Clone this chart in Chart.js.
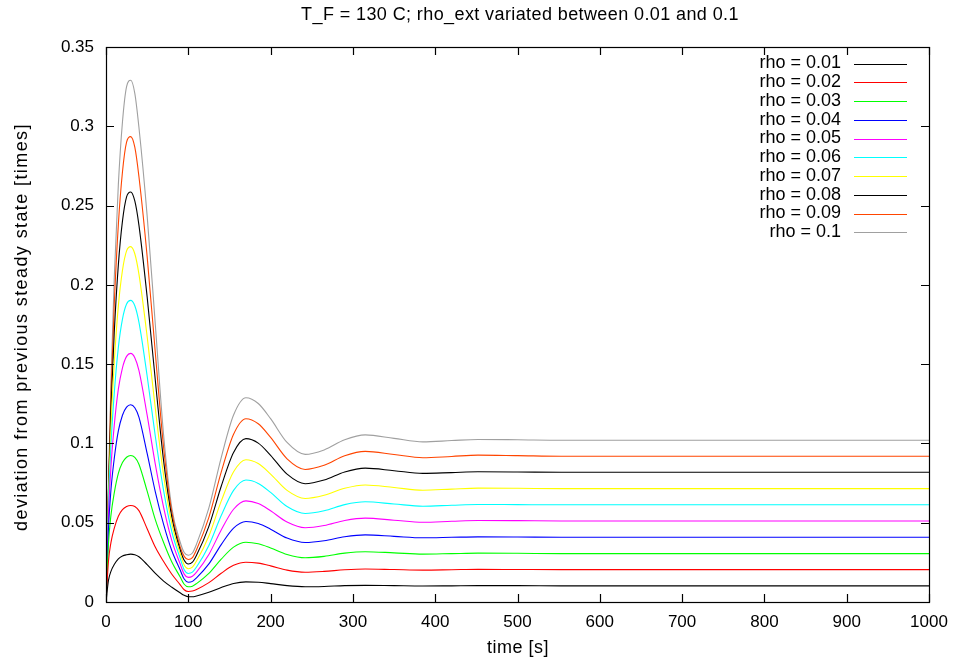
<!DOCTYPE html>
<html>
<head>
<meta charset="utf-8">
<script src="https://cdn.jsdelivr.net/npm/chart.js@4.4.1/dist/chart.umd.min.js"></script>
<style>
  html, body { margin: 0; padding: 0; background: #fff; }
  #wrap { width: 959px; height: 664px; }
</style>
</head>
<body>
<div id="wrap"><canvas id="chart" width="959" height="664"></canvas></div>
<script>
// tiempos (s)
const times = [0, 3, 6, 10, 15, 20, 25, 30, 35, 40, 50, 60, 70, 80, 90, 95, 100, 105, 110, 125, 140, 155, 170, 185, 200, 220, 242, 265, 290, 315, 350, 385, 420, 452, 500, 553, 650, 750, 850, 1000];

// desviación para cada rho
const rho001 = [0, 0.0136, 0.0193, 0.0236, 0.0272, 0.0290, 0.0298, 0.0302, 0.0298, 0.0285, 0.0236, 0.0180, 0.0132, 0.0093, 0.0058, 0.0042, 0.0033, 0.0033, 0.0038, 0.0061, 0.0091, 0.0117, 0.0127, 0.0125, 0.0116, 0.0103, 0.0096, 0.0098, 0.0103, 0.0105, 0.0103, 0.0101, 0.0102, 0.0103, 0.0103, 0.0102, 0.0102, 0.0102, 0.0102, 0.0102];
const rho002 = [0, 0.0258, 0.0375, 0.0464, 0.0541, 0.0582, 0.0602, 0.0609, 0.0602, 0.0576, 0.0462, 0.0345, 0.0255, 0.0175, 0.0110, 0.0077, 0.0066, 0.0069, 0.0079, 0.0122, 0.0181, 0.0231, 0.0251, 0.0245, 0.0228, 0.0201, 0.0188, 0.0193, 0.0203, 0.0208, 0.02045, 0.0201, 0.02035, 0.0206, 0.0205, 0.0204, 0.0204, 0.0204, 0.0204, 0.0204];
const rho003 = [0, 0.0369, 0.0546, 0.0687, 0.0811, 0.0879, 0.0913, 0.0924, 0.0912, 0.0869, 0.0699, 0.0518, 0.0375, 0.0252, 0.0159, 0.0112, 0.0096, 0.0100, 0.0116, 0.0180, 0.0270, 0.0346, 0.0377, 0.0367, 0.0341, 0.0300, 0.0279, 0.0288, 0.0308, 0.0317, 0.0310, 0.0302, 0.0305, 0.0308, 0.0307, 0.0305, 0.0305, 0.0305, 0.0305, 0.0305];
const rho004 = [0, 0.0464, 0.0705, 0.0904, 0.1079, 0.1178, 0.1229, 0.1244, 0.1225, 0.1166, 0.0937, 0.0693, 0.0489, 0.0323, 0.0203, 0.0145, 0.0125, 0.0130, 0.0152, 0.0240, 0.0362, 0.0466, 0.0508, 0.0495, 0.0459, 0.0403, 0.0375, 0.0386, 0.0411, 0.0423, 0.0414, 0.0405, 0.0408, 0.0411, 0.0410, 0.0408, 0.0408, 0.0408, 0.0408, 0.0408];
const rho005 = [0, 0.0546, 0.0850, 0.1112, 0.1342, 0.1477, 0.1549, 0.1568, 0.1541, 0.1461, 0.1178, 0.0866, 0.0597, 0.0387, 0.0241, 0.0176, 0.0155, 0.0162, 0.0189, 0.0300, 0.0454, 0.0585, 0.0638, 0.0621, 0.0575, 0.0504, 0.0468, 0.0482, 0.0514, 0.0529, 0.0516, 0.0503, 0.0509, 0.0514, 0.0513, 0.0511, 0.0511, 0.0511, 0.0511, 0.0511];
const rho006 = [0, 0.0612, 0.0985, 0.1314, 0.1605, 0.1784, 0.1879, 0.1902, 0.1868, 0.1765, 0.1425, 0.1042, 0.0702, 0.0443, 0.0278, 0.0204, 0.0180, 0.0188, 0.0221, 0.0357, 0.0545, 0.0704, 0.0769, 0.0748, 0.0691, 0.0602, 0.0558, 0.0575, 0.0614, 0.0632, 0.0618, 0.0604, 0.0610, 0.0615, 0.0614, 0.0613, 0.0613, 0.0613, 0.0613, 0.0613];
const rho007 = [0, 0.0666, 0.1105, 0.1508, 0.1867, 0.2091, 0.2214, 0.2241, 0.2196, 0.2068, 0.1674, 0.1217, 0.0800, 0.0493, 0.0307, 0.0234, 0.0210, 0.0220, 0.0258, 0.0416, 0.0636, 0.0821, 0.0897, 0.0873, 0.0807, 0.0704, 0.0653, 0.0673, 0.0717, 0.0738, 0.0722, 0.0705, 0.0712, 0.0718, 0.0717, 0.0715, 0.0715, 0.0715, 0.0715, 0.0715];
const rho008 = [0, 0.0701, 0.1213, 0.1696, 0.2126, 0.2402, 0.2555, 0.2586, 0.2529, 0.2377, 0.1924, 0.1394, 0.0890, 0.0535, 0.0331, 0.0263, 0.0240, 0.0251, 0.0295, 0.0477, 0.0730, 0.0943, 0.1030, 0.1002, 0.0925, 0.0806, 0.0746, 0.0769, 0.0820, 0.0844, 0.0828, 0.0811, 0.0816, 0.0821, 0.0820, 0.0818, 0.0818, 0.0818, 0.0818, 0.0818];
const rho009 = [0, 0.0722, 0.1303, 0.1873, 0.2380, 0.2712, 0.2900, 0.2935, 0.2868, 0.2683, 0.2178, 0.1567, 0.0974, 0.0566, 0.0349, 0.0288, 0.0268, 0.0280, 0.0330, 0.0534, 0.0819, 0.1058, 0.1156, 0.1124, 0.1038, 0.0903, 0.0836, 0.0862, 0.0922, 0.0950, 0.0930, 0.0910, 0.0918, 0.0926, 0.0923, 0.0919, 0.0919, 0.0919, 0.0919, 0.0919];
const rho010 = [0, 0.0724, 0.1382, 0.2040, 0.2632, 0.3027, 0.3250, 0.3290, 0.3208, 0.2994, 0.2435, 0.1744, 0.1053, 0.0592, 0.0380, 0.0312, 0.0295, 0.0309, 0.0365, 0.0593, 0.0911, 0.1179, 0.1288, 0.1252, 0.1156, 0.1006, 0.0931, 0.0959, 0.1023, 0.1054, 0.1032, 0.1010, 0.1018, 0.1025, 0.1023, 0.1020, 0.1020, 0.1020, 0.1020, 0.1020];

const seriesLabels = ['rho = 0.01', 'rho = 0.02', 'rho = 0.03', 'rho = 0.04', 'rho = 0.05', 'rho = 0.06', 'rho = 0.07', 'rho = 0.08', 'rho = 0.09', 'rho = 0.1'];
const seriesValues = [rho001, rho002, rho003, rho004, rho005, rho006, rho007, rho008, rho009, rho010];
const colors = ['#000000', '#ff0000', '#00ff00', '#0000ff', '#ff00ff', '#00ffff', '#ffff00', '#000000', '#ff4500', '#a0a0a0'];

const xTickLabels = ['0', '100', '200', '300', '400', '500', '600', '700', '800', '900', '1000'];
const yTickLabels = ['0', '0.05', '0.1', '0.15', '0.2', '0.25', '0.3', '0.35'];

const FONT = "'Liberation Sans', Arial, sans-serif";

// marco, ticks hacia dentro, leyenda y títulos al estilo gnuplot
const gnuplotFrame = {
    id: 'gnuplotFrame',
    afterDraw(chart) {
        const ctx = chart.ctx;
        const a = chart.chartArea;
        const xs = chart.scales.x;
        const ys = chart.scales.y;
        ctx.save();
        ctx.strokeStyle = '#000';
        ctx.lineWidth = 1.2;
        ctx.strokeRect(a.left + 0.5, a.top + 0.5, a.right - a.left, a.bottom - a.top);

        ctx.beginPath();
        xs.ticks.forEach(t => {
            const px = Math.round(xs.getPixelForValue(t.value)) + 0.5;
            ctx.moveTo(px, a.bottom); ctx.lineTo(px, a.bottom - 8);
            ctx.moveTo(px, a.top); ctx.lineTo(px, a.top + 8);
        });
        ys.ticks.forEach(t => {
            const py = Math.round(ys.getPixelForValue(t.value)) + 0.5;
            ctx.moveTo(a.left, py); ctx.lineTo(a.left + 8, py);
            ctx.moveTo(a.right, py); ctx.lineTo(a.right - 8, py);
        });
        ctx.stroke();

        // leyenda
        ctx.font = '18px ' + FONT;
        ctx.fillStyle = '#000';
        ctx.textAlign = 'right';
        ctx.textBaseline = 'middle';
        ctx.lineWidth = 1.2;
        seriesLabels.forEach((lab, i) => {
            const y = 63.5 + i * 18.75;
            ctx.fillText(lab, 841, y);
            ctx.strokeStyle = colors[i];
            ctx.beginPath();
            ctx.moveTo(854, Math.round(y) + 0.5);
            ctx.lineTo(907, Math.round(y) + 0.5);
            ctx.stroke();
        });

        // títulos
        ctx.textAlign = 'center';
        ctx.letterSpacing = '0.4px';
        ctx.fillText('T_F = 130 C; rho_ext variated between 0.01 and 0.1', 520, 15);
        ctx.letterSpacing = '0.5px';
        ctx.fillText('time [s]', 518, 648);
        ctx.letterSpacing = '1.4px';
        ctx.translate(22, 327);
        ctx.rotate(-Math.PI / 2);
        ctx.fillText('deviation from previous steady state [times]', 0, 0);
        ctx.restore();
    }
};

new Chart(document.getElementById('chart'), {
    type: 'line',
    data: {
        datasets: seriesValues.map((vals, i) => ({
            label: seriesLabels[i],
            data: vals.map((v, j) => ({ x: times[j], y: v })),
            borderColor: colors[i],
            borderWidth: 1.1,
            pointRadius: 0,
            fill: false,
            cubicInterpolationMode: 'monotone'
        }))
    },
    options: {
        responsive: false,
        animation: false,
        layout: { padding: { top: 47, right: 30, left: 0, bottom: 0 } },
        plugins: {
            legend: { display: false },
            title: { display: false },
            tooltip: { enabled: false }
        },
        scales: {
            x: {
                type: 'linear',
                min: 0,
                max: 1000,
                grid: { display: false, drawTicks: false },
                border: { display: false },
                afterFit: s => { s.height = 62; },
                ticks: {
                    stepSize: 100,
                    padding: 10,
                    color: '#000',
                    font: { size: 17, family: FONT },
                    maxRotation: 0,
                    callback: (v, i) => xTickLabels[i]
                }
            },
            y: {
                min: 0,
                max: 0.35,
                grid: { display: false, drawTicks: false },
                border: { display: false },
                afterFit: s => { s.width = 106; },
                ticks: {
                    stepSize: 0.05,
                    padding: 12,
                    color: '#000',
                    font: { size: 17, family: FONT },
                    callback: (v, i) => yTickLabels[i]
                }
            }
        }
    },
    plugins: [gnuplotFrame]
});
</script>
</body>
</html>
